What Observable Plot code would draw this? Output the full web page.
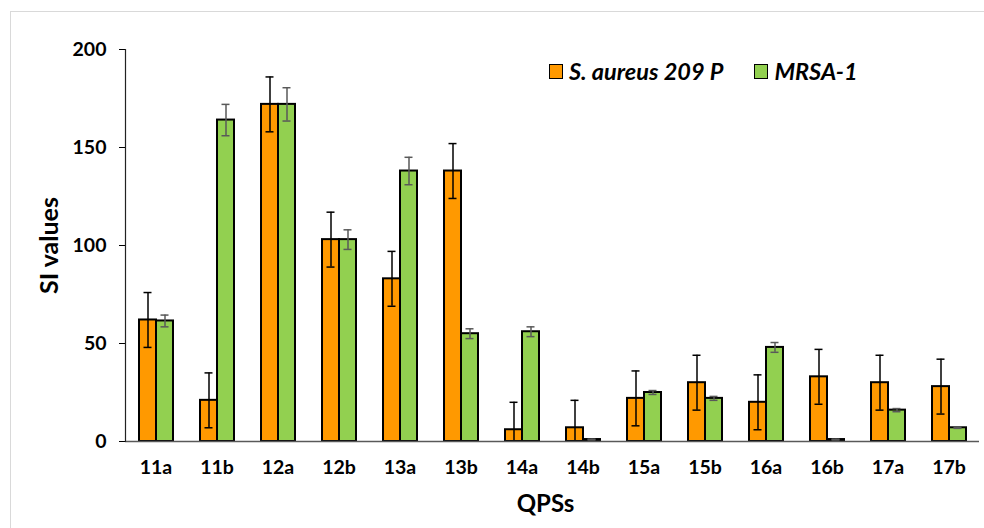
<!DOCTYPE html>
<html>
<head>
<meta charset="utf-8">
<script src="https://cdn.jsdelivr.net/npm/d3@7"></script>
<script src="https://cdn.jsdelivr.net/npm/@observablehq/plot@0.6"></script>
<style>
  html, body { margin: 0; padding: 0; background: #fff; }
  #wrap { position: relative; width: 984px; height: 528px; overflow: hidden; background: #fff; }
  #border { position: absolute; left: 10px; top: 11px; right: -5px; bottom: -5px; border-left: 1.5px solid #d9d9d9; border-top: 1.5px solid #d9d9d9; }
  #chart { position: absolute; left: 0; top: 0; }
  #legend { position: absolute; left: 549px; top: 57px; display: flex; align-items: center; font-family: Lato, sans-serif; font-weight: bold; font-style: italic; font-size: 23.5px; color: #000; }
  .item { display: flex; align-items: center; margin-right: 31px; }
  .sw { width: 14px; height: 15px; box-sizing: border-box; border: 1.5px solid #000; margin-right: 6px; }
</style>
</head>
<body>
<div id="wrap">
  <div id="border"></div>
  <div id="chart"></div>
  <div id="legend"></div>
</div>
<script>
const categories = ["11a","11b","12a","12b","13a","13b","14a","14b","15a","15b","16a","16b","17a","17b"];
const seriesNames = ["S. aureus 209 P", "MRSA-1"];
const seriesColors = ["#FF9900", "#92D050"];
const aureus    = [62, 21, 172, 103, 83, 138, 6, 7, 22, 30, 20, 33, 30, 28];
const aureusErr = [14, 14, 14, 14, 14, 14, 14, 14, 14, 14, 14, 14, 14, 14];
const mrsa      = [61.5, 164, 172, 103, 138, 55, 56, 1, 25, 22, 48, 1, 16, 7];
const mrsaErr   = [3, 8, 8.5, 5, 7, 2.5, 2.5, 0.2, 1, 1, 2.5, 0.2, 0.8, 0.3];
const yTicks = [0, 50, 100, 150, 200];

const rows = categories.flatMap((c, i) => [
  {cat: c, series: seriesNames[0], v: aureus[i], e: aureusErr[i]},
  {cat: c, series: seriesNames[1], v: mrsa[i], e: mrsaErr[i]}
]);
const rowsA = rows.filter(d => d.series === seriesNames[0]);
const rowsM = rows.filter(d => d.series === seriesNames[1]);

function errMarks(data, stroke) {
  return [
    Plot.ruleX(data, {fx: "cat", x: "series", y1: d => Math.max(0, d.v - d.e), y2: d => d.v + d.e, stroke, strokeWidth: 1.5}),
    Plot.tickY(data, {fx: "cat", x: "series", y: d => d.v + d.e, stroke, strokeWidth: 1.5, insetLeft: 4.5, insetRight: 4.5}),
    Plot.tickY(data.filter(d => d.v - d.e > 0), {fx: "cat", x: "series", y: d => d.v - d.e, stroke, strokeWidth: 1.5, insetLeft: 4.5, insetRight: 4.5})
  ];
}

const chart = Plot.plot({
  width: 984,
  height: 528,
  marginLeft: 122,
  marginRight: 2,
  marginTop: 49,
  marginBottom: 87,
  style: {fontFamily: "Lato, sans-serif", fontWeight: "bold", fontSize: "19.5px", color: "#000", background: "transparent", overflow: "visible"},
  fx: {domain: categories, padding: 0, label: null, tickSize: 0, tickPadding: 19},
  x: {domain: seriesNames, axis: null, paddingInner: 0, paddingOuter: 0.7065},
  y: {domain: [0, 200], ticks: yTicks, tickSize: 6, tickPadding: 13, label: null},
  color: {domain: seriesNames, range: seriesColors},
  marks: [
    Plot.barY(rows, {fx: "cat", x: "series", y: "v", fill: "series", stroke: "#000", strokeWidth: 2}),
    ...errMarks(rowsA, "#000"),
    ...errMarks(rowsM, "#595959"),
    Plot.ruleY([0], {stroke: "#595959", strokeWidth: 1.5}),
    Plot.frame({anchor: "left", facetAnchor: "left", stroke: "#222", strokeWidth: 1.2}),
    Plot.text(["SI values"], {facet: "super", frameAnchor: "left", textAnchor: "middle", lineAnchor: "middle", rotate: -90, dx: -76, fontSize: 25, fontWeight: "bold"}),
    Plot.text(["QPSs"], {facet: "super", frameAnchor: "bottom", textAnchor: "middle", lineAnchor: "middle", dx: -7, dy: 63, fontSize: 24, fontWeight: "bold"})
  ]
});
document.getElementById("chart").appendChild(chart);

const legend = document.getElementById("legend");
seriesNames.forEach((name, i) => {
  const item = document.createElement("div");
  item.className = "item";
  const sw = document.createElement("div");
  sw.className = "sw";
  sw.style.background = seriesColors[i];
  const label = document.createElement("span");
  label.textContent = name;
  item.appendChild(sw);
  item.appendChild(label);
  legend.appendChild(item);
});
</script>
</body>
</html>
